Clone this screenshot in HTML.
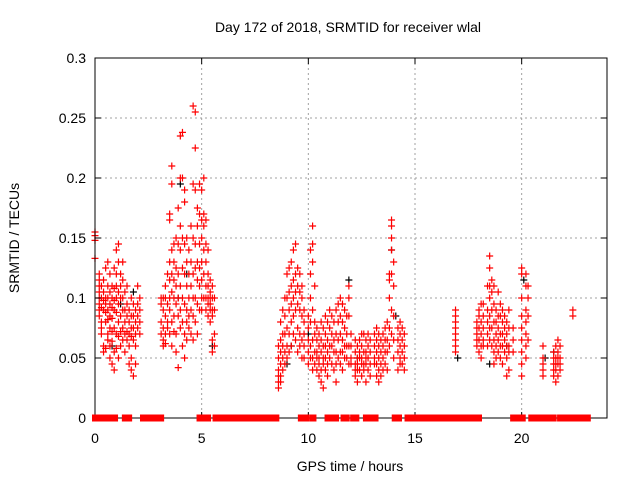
<!DOCTYPE html>
<html><head><meta charset="utf-8"><style>
body{margin:0;background:#fff;}
svg{display:block;font-family:"Liberation Sans",sans-serif;}
</style></head><body>
<svg id="chart" width="640" height="480">
<text x="348" y="32" font-size="14" text-anchor="middle">Day 172 of 2018, SRMTID for receiver wlal</text>
<text x="350" y="471" font-size="14" text-anchor="middle">GPS time / hours</text>
<text transform="translate(19,238) rotate(-90)" font-size="14" text-anchor="middle">SRMTID / TECUs</text>
<g id="grid"></g><g id="black"></g><g id="red"></g><g id="axes"></g><g id="zeros"></g>
</svg>
<script>
const xTicks=[0,5,10,15,20];
const yTicks=[0,0.05,0.1,0.15,0.2,0.25,0.3];
const yTickLabels=["0","0.05","0.1","0.15","0.2","0.25","0.3"];
const zeroRanges=[[0,0.36],[0.47,0.61],[0.7,0.94],[1.4,1.6],[2.25,3.1],[4.9,4.93],[5.1,5.3],[5.65,8.5],[9.65,9.9],[10.18,10.24],[10.9,11.3],[11.65,11.8],[12.1,12.25],[12.7,12.85],[12.97,13.15],[14.05,14.25],[14.65,16.9],[17.0,18.0],[19.6,20.05],[20.45,21.0],[21.05,21.5],[21.8,23.1]];
const redTimes=[0,0.2,0.3,0.4,0.5,0.6,0.7,0.8,0.9,1.0,1.1,1.2,1.3,1.4,1.5,1.6,1.7,1.8,1.9,2.0,2.1,
3.1,3.2,3.3,3.4,3.5,3.6,3.7,3.8,3.9,4.0,4.1,4.2,4.3,4.4,4.5,4.6,4.7,4.8,4.9,5.0,5.1,5.2,5.3,5.4,5.5,5.6,
8.6,8.7,8.8,8.9,9.0,9.1,9.2,9.3,9.4,9.5,9.6,9.7,9.8,10.0,10.1,10.2,10.3,10.4,10.5,10.6,10.7,10.8,10.9,11.0,11.1,11.2,11.3,11.4,11.5,11.6,11.7,11.8,11.9,12.0,12.2,12.3,12.4,12.5,12.6,12.7,12.8,12.9,13.1,13.2,13.3,13.4,13.5,13.6,13.7,13.8,13.9,14.0,14.2,14.3,14.4,14.5,
16.9,17.9,18.0,18.1,18.2,18.4,18.5,18.6,18.7,18.8,18.9,19.0,19.1,19.2,19.3,19.4,19.6,20.0,20.2,20.3,21.0,21.5,21.6,21.7,21.8,22.4];
const redValues=[[.155,.152,.148,.133],[.12,.115,.11,.105,.1,.095,.09,.085],[.11,.1,.092,.08,.075,.07],[.115,.105,.098,.09,.06,.055],[.125,.1,.095,.088,.08,.058],[.13,.11,.1,.09,.082,.07,.065],[.12,.105,.095,.085,.075,.06,.05],[.11,.1,.092,.083,.072,.064,.045],[.125,.108,.098,.09,.075,.055,.04],[.14,.12,.11,.1,.088,.07,.058],[.145,.13,.105,.095,.08,.068,.05],[.12,.11,.1,.085,.072,.06],[.13,.115,.1,.09,.075,.065],[.105,.09,.08,.07,.055],[.11,.095,.085,.072,.065],[.09,.08,.07,.06,.045],[.1,.085,.075,.068,.05,.04],[.095,.085,.075,.065,.035],[.09,.08,.07,.06,.045],[.11,.095,.085,.075],[.1,.09,.08,.07],
[.1,.095,.08,.07],[.1,.09,.075,.065,.06],[.11,.1,.085,.07,.062],[.12,.095,.08,.075],[.17,.165,.13,.115,.1,.09,.07],[.195,.21,.14,.12,.105,.08,.06],[.145,.13,.115,.1,.085,.072],[.15,.125,.11,.095,.07,.055],[.175,.145,.12,.1,.085,.042],[.235,.2,.16,.14,.11,.09,.075],[.238,.2,.15,.125,.1,.08,.06],[.19,.18,.145,.12,.095,.07,.05],[.15,.13,.11,.09,.08,.065],[.14,.12,.1,.085,.075],[.16,.13,.11,.09,.07],[.26,.195,.15,.12,.1,.085,.065],[.255,.225,.19,.145,.125,.1,.08],[.175,.16,.13,.115,.095,.07],[.195,.17,.145,.125,.11,.09],[.19,.165,.15,.13,.115,.1,.09],[.2,.17,.16,.14,.12,.1],[.165,.145,.13,.11,.1,.09],[.14,.12,.11,.1,.095,.085],[.115,.105,.1,.095,.09,.08],[.11,.1,.09,.085,.065,.055],[.1,.09,.07,.06],
[.06,.05,.04,.035,.03,.025],[.08,.065,.055,.045,.035,.03],[.09,.07,.06,.05,.04],[.1,.085,.07,.055,.045],[.12,.1,.075,.06,.05],[.125,.105,.09,.07,.055],[.13,.11,.095,.08,.06],[.14,.115,.1,.085,.07],[.145,.12,.105,.09,.065],[.125,.11,.095,.075,.055],[.12,.105,.09,.07,.06],[.11,.1,.085,.065,.05],[.09,.08,.07,.06,.05],[.085,.075,.065,.055,.045],[.14,.12,.1,.08,.06,.05],[.16,.145,.13,.09,.065,.05,.04],[.11,.08,.07,.055,.045],[.075,.065,.055,.05,.04],[.07,.06,.05,.045,.035],[.08,.065,.055,.04,.03],[.075,.06,.05,.045,.025],[.085,.07,.06,.05,.04],[.08,.065,.055,.045,.035],[.09,.075,.06,.05],[.085,.07,.06,.045],[.08,.065,.055,.04],[.09,.07,.055,.045,.03],[.095,.08,.065,.05],[.1,.085,.07,.055,.045],[.095,.08,.065,.055,.04],[.09,.075,.06,.05],[.085,.07,.06,.05],[.11,.1,.085,.06,.045],[.07,.06,.05,.045],[.065,.055,.045,.04,.035],[.06,.05,.045,.04,.03],[.065,.055,.05,.04],[.07,.06,.05,.045,.035],[.07,.055,.045,.04],[.065,.055,.05,.045,.03],[.07,.06,.05,.04],[.065,.055,.045,.035],[.07,.06,.05,.045],[.075,.065,.055,.045,.035],[.07,.06,.05,.04,.03],[.065,.055,.045,.035],[.07,.06,.05,.04],[.075,.065,.055,.045],[.08,.065,.055,.04],[.12,.115,.1,.075,.06],[.165,.16,.15,.14,.12,.09,.07],[.13,.11,.085,.065,.05],[.075,.065,.055,.04],[.08,.07,.06,.05,.045],[.075,.065,.055,.045],[.07,.06,.05,.04],
[.09,.085,.08,.075,.07,.065,.06,.055],[.08,.075,.07,.065,.06],[.09,.085,.075,.065,.055],[.095,.08,.07,.06,.05],[.095,.085,.075,.065,.06],[.11,.09,.08,.07,.06],[.135,.125,.11,.1,.085,.075,.065],[.115,.105,.09,.075,.06],[.11,.095,.08,.065,.055,.045],[.09,.08,.07,.06,.05],[.105,.085,.075,.065,.055],[.095,.085,.07,.06,.05],[.09,.08,.07,.06,.045],[.085,.075,.065,.055],[.08,.07,.06,.05,.035],[.09,.075,.06,.055,.04],[.075,.065,.055],[.125,.12,.1,.085,.075,.065,.055,.045,.035],[.12,.11,.09,.08,.07,.06,.05],[.11,.1,.085,.065],[.06,.05,.045,.04,.035],[.055,.05,.045,.04,.035],[.06,.05,.045,.04,.03],[.065,.055,.05,.045,.035],[.06,.05,.045,.04],[.09,.085]];
const blackTimes=[0.8,1.2,1.8,3.9,4.0,4.3,5.5,9.0,9.2,10.0,11.9,12.3,13.9,14.1,17.0,18.5,19.3,20.1,21.1,21.5];
const blackValues=[.06,.095,.105,.1,.195,.12,.06,.045,.06,.07,.115,.05,.14,.085,.05,.045,.06,.115,.05,.055];

const L=95,R=607,T=58,B=418,XMAX=24,YMAX=0.3;
const xs=t=>L+t*(R-L)/XMAX, ys=v=>B-v*(B-T)/YMAX;
const NS="http://www.w3.org/2000/svg";
function mk(tag,attrs,parent){const e=document.createElementNS(NS,tag);for(const k in attrs)e.setAttribute(k,attrs[k]);parent.appendChild(e);return e;}
const grid=document.getElementById('grid'),axes=document.getElementById('axes');
yTicks.forEach((v,i)=>{
  if(v>0&&v<YMAX){const g=mk('line',{x1:L,x2:R,y1:ys(v),y2:ys(v),stroke:'#a0a0a0','stroke-dasharray':'2,3'},grid);
  
  }
  const t=mk('text',{x:L-9,y:ys(v)+5,'font-size':14,'text-anchor':'end'},axes);t.textContent=yTickLabels[i];
  
  
  mk('line',{x1:L,x2:L+6,y1:ys(v),y2:ys(v),stroke:'#000'},axes);
  mk('line',{x1:R,x2:R-6,y1:ys(v),y2:ys(v),stroke:'#000'},axes);
});
xTicks.forEach(x=>{
  if(x>0){const g=mk('line',{x1:xs(x),x2:xs(x),y1:T,y2:B,stroke:'#a0a0a0','stroke-dasharray':'2,3'},grid);
  
  }
  const t=mk('text',{x:xs(x),y:B+25,'font-size':14,'text-anchor':'middle'},axes);t.textContent=x;
  
  
  mk('line',{x1:xs(x),x2:xs(x),y1:B,y2:B-6,stroke:'#000'},axes);
  mk('line',{x1:xs(x),x2:xs(x),y1:T,y2:T+6,stroke:'#000'},axes);
});
const fr=mk('rect',{x:L,y:T,width:R-L,height:B-T,fill:'none',stroke:'#000'},axes);


const zg=document.getElementById('zeros');
zeroRanges.forEach(r=>{
  const z=mk('rect',{x:xs(r[0])-3,y:B-3.5,width:xs(r[1])-xs(r[0])+6,height:7,fill:'#ff0000'},zg);
  
  
});
function plus(g,t,v,c){
  const x=xs(t),y=ys(v);
  const p=mk('path',{d:`M${x-3.5} ${y}H${x+3.5}M${x} ${y-3.5}V${y+3.5}`,stroke:c,'stroke-width':1.2,fill:'none'},g);
  
  
}
const bg=document.getElementById('black');
blackTimes.forEach((t,i)=>plus(bg,t,blackValues[i],'#000'));
const rg=document.getElementById('red');
redTimes.forEach((t,i)=>redValues[i].forEach(v=>plus(rg,t,v,'#ff0000')));
</script>
</body></html>
